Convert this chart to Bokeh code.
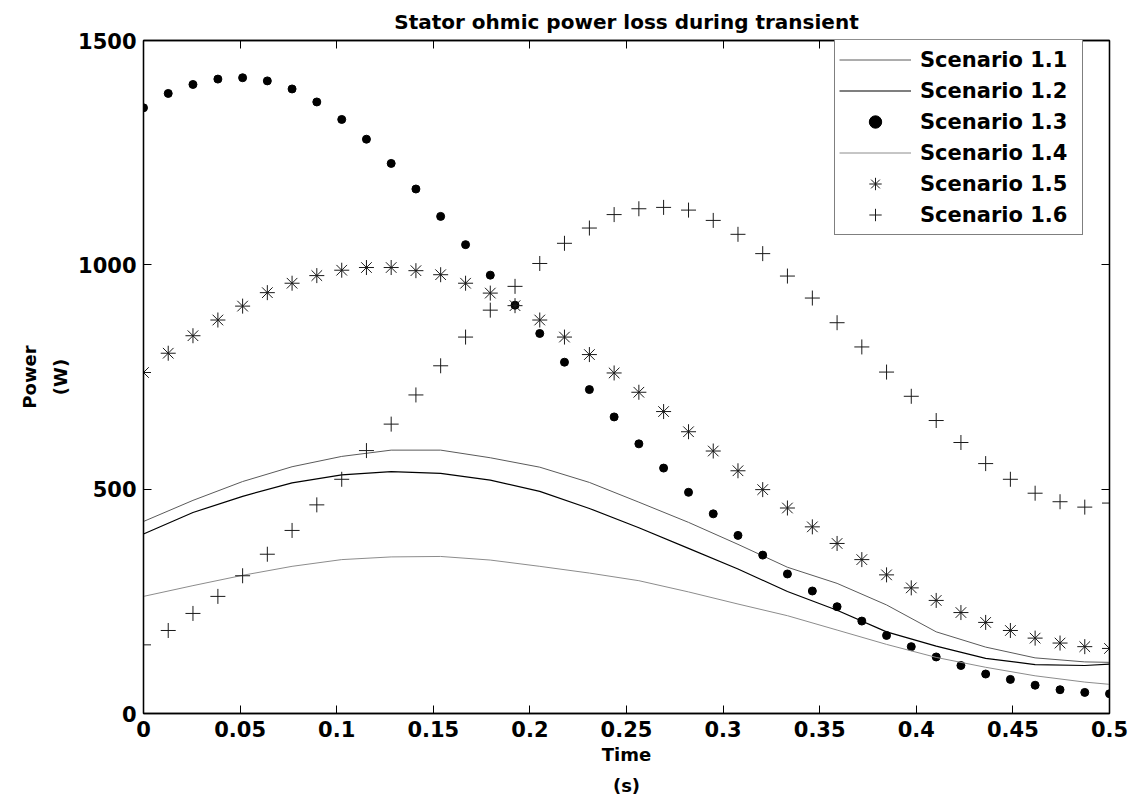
from bokeh.plotting import figure
from bokeh.models import LinearAxis, FixedTicker, Range1d, Legend, LegendItem
from bokeh.embed import file_html
from bokeh.resources import INLINE

# ---------------- data ----------------
t_markers = [0.0, 0.0128, 0.0256, 0.0385, 0.0513, 0.0641, 0.0769, 0.0897, 0.1026, 0.1154,
             0.1282, 0.1410, 0.1538, 0.1667, 0.1795, 0.1923, 0.2051, 0.2179, 0.2308, 0.2436,
             0.2564, 0.2692, 0.2821, 0.2949, 0.3077, 0.3205, 0.3333, 0.3462, 0.3590, 0.3718,
             0.3846, 0.3974, 0.4103, 0.4231, 0.4359, 0.4487, 0.4615, 0.4744, 0.4872, 0.5]

t_lines = [0.0, 0.0256, 0.0513, 0.0769, 0.1026, 0.1282, 0.1538, 0.1795, 0.2051, 0.2308,
           0.2564, 0.2821, 0.3077, 0.3333, 0.3590, 0.3846, 0.4103, 0.4359, 0.4615, 0.4872, 0.5]

scenario_1_1 = [428, 475, 517, 550, 573, 587, 587, 570, 549, 515,
                471, 426, 377, 326, 290, 242, 182, 148, 124, 115, 114]
scenario_1_2 = [400, 448, 484, 514, 532, 539, 535, 520, 495, 457,
                414, 368, 322, 272, 230, 182, 150, 123, 109, 107, 110]
scenario_1_4 = [261, 285, 308, 328, 343, 349, 350, 342, 328, 313,
                296, 271, 244, 218, 186, 154, 125, 103, 84, 70, 65]

scenario_1_3 = [1350, 1382, 1402, 1414, 1417, 1410, 1392, 1363, 1324, 1280,
                1226, 1169, 1108, 1045, 977, 910, 847, 783, 722, 661,
                601, 547, 493, 445, 397, 353, 311, 273, 238, 206,
                174, 149, 126, 107, 88, 76, 63, 53, 47, 44]
scenario_1_5 = [760, 803, 842, 877, 908, 938, 959, 976, 988, 994,
                994, 987, 978, 959, 937, 909, 877, 839, 800, 759,
                716, 673, 628, 585, 541, 499, 458, 416, 379, 343,
                309, 280, 252, 225, 203, 185, 168, 157, 149, 145]
scenario_1_6 = [153, 185, 223, 261, 307, 355, 408, 465, 522, 586,
                645, 710, 775, 839, 899, 952, 1003, 1048, 1082, 1112,
                1125, 1128, 1122, 1099, 1068, 1025, 975, 926, 871, 817,
                761, 707, 653, 604, 557, 522, 491, 472, 460, 469]

x_ticks = [0, 0.05, 0.1, 0.15, 0.2, 0.25, 0.3, 0.35, 0.4, 0.45, 0.5]
x_tick_labels = ["0", "0.05", "0.1", "0.15", "0.2", "0.25", "0.3", "0.35", "0.4", "0.45", "0.5"]
y_ticks = [0, 500, 1000, 1500]
y_tick_labels = ["0", "500", "1000", "1500"]

title_text = "Stator ohmic power loss during transient"
x_label = "Time\n(s)"
y_label = "Power\n(W)"
legend_labels = ["Scenario 1.1", "Scenario 1.2", "Scenario 1.3",
                 "Scenario 1.4", "Scenario 1.5", "Scenario 1.6"]

# ---------------- figure ----------------
FONT = "DejaVu Sans"
W, H = 1136, 800
p = figure(width=W, height=H, output_backend="svg", toolbar_location=None,
           x_range=Range1d(0, 0.5), y_range=Range1d(0, 1500),
           min_border_left=143, min_border_right=W - 1109, min_border_top=40,
           min_border_bottom=H - 713,
           x_axis_location=None, y_axis_location=None)
p.background_fill_color = "white"
p.border_fill_color = "white"
p.outline_line_color = "black"
p.outline_line_width = 1.3
p.xgrid.visible = False
p.ygrid.visible = False

p.title.text = title_text
p.title.align = "center"
p.title.text_font = FONT
p.title.text_font_style = "bold"
p.title.text_font_size = "20px"
p.title.text_color = "black"
p.title.standoff = 14


def make_axis(ticks, labels, show_labels, label=None):
    ax = LinearAxis(ticker=FixedTicker(ticks=ticks))
    ax.major_label_overrides = {t: l for t, l in zip(ticks, labels)}
    ax.major_tick_in = 8
    ax.major_tick_out = 0
    ax.minor_tick_in = 0
    ax.minor_tick_out = 0
    ax.axis_line_color = "black"
    ax.axis_line_width = 1.3
    ax.major_tick_line_color = "black"
    ax.major_tick_line_width = 1
    ax.major_label_text_font = FONT
    ax.major_label_text_font_style = "bold"
    if show_labels:
        ax.major_label_text_font_size = "21px"
        ax.major_label_text_color = "black"
        ax.major_label_standoff = 7
    else:
        ax.major_label_text_font_size = "1px"
        ax.major_label_text_color = None
        ax.major_label_standoff = 0
    if label:
        ax.axis_label = label
        ax.axis_label_text_font = FONT
        ax.axis_label_text_font_style = "bold"
        ax.axis_label_text_font_size = "18px"
        ax.axis_label_text_color = "black"
        ax.axis_label_text_line_height = 1.5
        ax.axis_label_standoff = 4
    return ax


p.add_layout(make_axis(x_ticks, x_tick_labels, True, x_label), "below")
p.add_layout(make_axis(y_ticks, y_tick_labels, True, y_label), "left")
p.add_layout(make_axis(x_ticks, x_tick_labels, False), "above")
p.add_layout(make_axis(y_ticks, y_tick_labels, False), "right")

r11 = p.line(t_lines, scenario_1_1, line_color="#5a5a5a", line_width=1)
r12 = p.line(t_lines, scenario_1_2, line_color="#000000", line_width=1.2)
r13 = p.scatter(t_markers, scenario_1_3, marker="circle", size=8,
                fill_color="black", line_color="black")
r14 = p.line(t_lines, scenario_1_4, line_color="#8c8c8c", line_width=1)
r15 = p.scatter(t_markers, scenario_1_5, marker="asterisk", size=15,
                line_color="#1a1a1a", line_width=1)
r16 = p.scatter(t_markers, scenario_1_6, marker="cross", size=15,
                line_color="#1a1a1a", line_width=1)

renderers = [r11, r12, r13, r14, r15, r16]
legend = Legend(items=[LegendItem(label=l, renderers=[r]) for l, r in zip(legend_labels, renderers)],
                location=(691, 478))
legend.label_text_font = FONT
legend.label_text_font_style = "bold"
legend.label_text_font_size = "21px"
legend.label_text_color = "black"
legend.glyph_width = 72
legend.glyph_height = 31
legend.label_height = 31
legend.label_width = 158
legend.label_standoff = 9
legend.spacing = 0
legend.padding = 4
legend.margin = 0
legend.border_line_color = "black"
legend.border_line_width = 1
legend.background_fill_color = "white"
legend.background_fill_alpha = 1
p.add_layout(legend, "center")

open("out.html", "w").write(file_html(p, INLINE))
